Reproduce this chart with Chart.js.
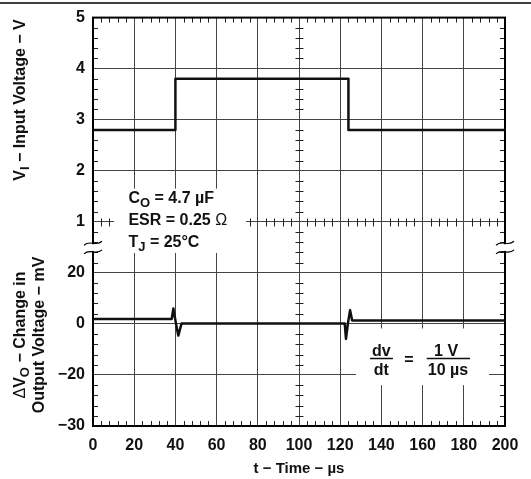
<!DOCTYPE html>
<html>
<head>
<meta charset="utf-8">
<script src="https://cdn.jsdelivr.net/npm/chart.js@4.4.1/dist/chart.umd.min.js"></script>
<style>
html, body { margin: 0; padding: 0; background: #fff; }
#wrap { width: 531px; height: 479px; }
</style>
</head>
<body>
<div id="wrap"><canvas id="transientChart"></canvas></div>
<script>
// Line transient: input step and output deviation (time in µs)
const timeIn = [0, 40, 40, 124, 124, 200];
const inputVolts = [2.8, 2.8, 3.8, 3.8, 2.8, 2.8];

const timeOut = [0, 38.2, 39.0, 40.2, 41.4, 43.0, 122.2, 122.8, 123.8, 124.8, 125.8, 200];
const deltaOut = [1.9, 1.9, 6.0, 0.5, -4.6, 0.2, 0.2, -5.9, 0.5, 5.4, 1.3, 1.3];

const inTickLabels = ['1', '2', '3', '4', '5'];
const outTickValues = [20, 0, -20, -40];
const outTickLabels = ['20', '0', '−20', '−30'];

// both traces share one 8-division graticule
const V_MIN = -3, V_MAX = 5;
const O_MIN = -40, O_MAX = 120;

const FONT = "'Liberation Sans', Arial, sans-serif";
Chart.defaults.font.family = FONT;
Chart.defaults.color = '#111';

// draw text made of runs, some of them subscripts
function runsWidth(ctx, runs, size) {
    let w = 0;
    runs.forEach(r => {
        ctx.font = (r.weight || 'bold') + ' ' + (r.sub ? size - 3 : size) + 'px ' + FONT;
        w += ctx.measureText(r.t).width;
    });
    return w;
}
function drawRuns(ctx, runs, x, y, size) {
    runs.forEach(r => {
        ctx.font = (r.weight || 'bold') + ' ' + (r.sub ? size - 3 : size) + 'px ' + FONT;
        ctx.fillText(r.t, x, r.sub ? y + 4 : y);
        x += ctx.measureText(r.t).width;
    });
}

const decor = {
    id: 'decor',
    beforeDatasetsDraw(chart) {
        const { ctx, chartArea: a, scales: { x, yV } } = chart;
        const px = t => x.getPixelForValue(t);
        const py = v => yV.getPixelForValue(v);
        ctx.save();

        // minor ticks on frame and centre lines
        const cy = Math.round(py(1)) + 0.5;
        const cx = Math.round(px(100)) + 0.5;
        ctx.strokeStyle = '#222';
        ctx.lineWidth = 1;
        ctx.beginPath();
        for (let k = 1; k < 50; k++) {
            if (k % 5 === 0) continue;
            const xx = Math.round(px(k * 4)) + 0.5;
            ctx.moveTo(xx, a.top); ctx.lineTo(xx, a.top + 5);
            ctx.moveTo(xx, a.bottom); ctx.lineTo(xx, a.bottom - 5);
            ctx.moveTo(xx, cy - 4); ctx.lineTo(xx, cy + 4);
        }
        for (let k = 1; k < 40; k++) {
            if (k % 5 === 0) continue;
            const yy = Math.round(py(V_MIN + k * 0.2)) + 0.5;
            ctx.moveTo(a.left, yy); ctx.lineTo(a.left + 5, yy);
            ctx.moveTo(a.right, yy); ctx.lineTo(a.right - 5, yy);
            ctx.moveTo(cx - 4, yy); ctx.lineTo(cx + 4, yy);
        }
        ctx.stroke();

        // frame
        ctx.strokeStyle = '#000';
        ctx.lineWidth = 2;
        ctx.strokeRect(a.left, a.top, a.right - a.left, a.bottom - a.top);

        // axis break marks
        const b1 = py(0.58), b2 = py(0.41);
        [a.left, a.right].forEach(bx => {
            ctx.fillStyle = '#fff';
            ctx.fillRect(bx - 2, b1 + 1, 4, b2 - b1 - 2);
            ctx.strokeStyle = '#000';
            ctx.lineWidth = 1.2;
            [b1, b2].forEach(by => {
                ctx.beginPath();
                ctx.moveTo(bx - 9, by + 2);
                ctx.bezierCurveTo(bx - 3, by - 4, bx + 3, by + 4, bx + 9, by - 2);
                ctx.stroke();
            });
        });

        // condition box
        ctx.fillStyle = '#fff';
        ctx.fillRect(px(10.2), py(1.65), px(74.3) - px(10.2), py(0.39) - py(1.65));
        ctx.fillStyle = '#111';
        ctx.textAlign = 'left';
        ctx.textBaseline = 'alphabetic';
        const tx = px(17.2);
        drawRuns(ctx, [{ t: 'C' }, { t: 'O', sub: true }, { t: ' = 4.7 µF' }], tx, py(1.37), 16);
        drawRuns(ctx, [{ t: 'ESR = 0.25 ' }, { t: 'Ω', weight: 'normal' }], tx, py(0.93), 16);
        drawRuns(ctx, [{ t: 'T' }, { t: 'J', sub: true }, { t: ' = 25°C' }], tx, py(0.51), 16);

        // dv/dt box
        ctx.fillStyle = '#fff';
        ctx.fillRect(px(127.7), py(-1.09), px(192.2) - px(127.7), py(-2.2) - py(-1.09));
        ctx.fillStyle = '#111';
        ctx.textAlign = 'center';
        ctx.font = 'bold 16px ' + FONT;
        const barY = Math.round(py(-1.66)) + 0.5;
        ctx.fillText('dv', px(140), barY - 3);
        ctx.fillText('dt', px(140), barY + 16);
        ctx.fillText('=', px(153.4), barY + 6);
        ctx.fillText('1 V', px(171.4), barY - 3);
        ctx.fillText('10 µs', px(172.3), barY + 16);
        ctx.strokeStyle = '#111';
        ctx.lineWidth = 1.5;
        ctx.beginPath();
        ctx.moveTo(px(134.5), barY); ctx.lineTo(px(145.6), barY);
        ctx.moveTo(px(162), barY); ctx.lineTo(px(183), barY);
        ctx.stroke();
        ctx.restore();
    },
    afterDraw(chart) {
        const { ctx } = chart;
        ctx.save();
        // rule across the top of the figure
        ctx.strokeStyle = '#000';
        ctx.lineWidth = 1.5;
        ctx.beginPath();
        ctx.moveTo(0, 3); ctx.lineTo(chart.width, 3);
        ctx.stroke();

        // rotated y titles
        ctx.fillStyle = '#111';
        ctx.textAlign = 'left';
        ctx.textBaseline = 'middle';
        const rotTitle = (runs, cx, cy) => {
            ctx.save();
            ctx.translate(cx, cy);
            ctx.rotate(-Math.PI / 2);
            drawRuns(ctx, runs, -runsWidth(ctx, runs, 16) / 2, 0, 16);
            ctx.restore();
        };
        rotTitle([{ t: 'V' }, { t: 'I', sub: true }, { t: ' − Input Voltage − V' }], 21, 100);
        rotTitle([{ t: 'Δ', weight: 'normal' }, { t: 'V' }, { t: 'O', sub: true }, { t: ' − Change in' }], 21, 335);
        rotTitle([{ t: 'Output Voltage − mV' }], 40, 335);
        ctx.restore();
    }
};

new Chart(document.getElementById('transientChart'), {
    type: 'line',
    data: {
        datasets: [{
            label: 'VI',
            data: timeIn.map((t, i) => ({ x: t, y: inputVolts[i] })),
            yAxisID: 'yV',
            borderColor: '#111',
            borderWidth: 2.5,
            borderJoinStyle: 'round',
            pointRadius: 0,
            tension: 0
        }, {
            label: 'dVO',
            data: timeOut.map((t, i) => ({ x: t, y: deltaOut[i] })),
            yAxisID: 'yO',
            borderColor: '#111',
            borderWidth: 2.5,
            borderJoinStyle: 'round',
            pointRadius: 0,
            tension: 0
        }]
    },
    options: {
        responsive: true,
        maintainAspectRatio: false,
        animation: false,
        layout: { padding: { left: 0, top: 15, right: 26, bottom: 0 } },
        plugins: {
            legend: { display: false },
            tooltip: { enabled: false }
        },
        scales: {
            x: {
                type: 'linear',
                min: 0,
                max: 200,
                ticks: {
                    stepSize: 20,
                    padding: 10,
                    maxRotation: 0,
                    font: { size: 16, weight: 'bold' },
                    color: '#111'
                },
                grid: { color: '#444', lineWidth: 1, drawTicks: false },
                border: { display: false },
                title: {
                    display: true,
                    text: 't − Time − µs',
                    font: { size: 15, weight: 'bold' },
                    color: '#111',
                    padding: { top: 0, bottom: 1 }
                },
                afterFit: s => { s.height = 53; }
            },
            yV: {
                type: 'linear',
                position: 'left',
                min: V_MIN,
                max: V_MAX,
                ticks: {
                    stepSize: 1,
                    padding: 8,
                    font: { size: 16, weight: 'bold' },
                    color: '#111',
                    callback: function (value) {
                        if (value >= 1) return inTickLabels[value - 1];
                        const mv = O_MIN + (value - V_MIN) * (O_MAX - O_MIN) / (V_MAX - V_MIN);
                        const i = outTickValues.indexOf(mv);
                        return i >= 0 ? outTickLabels[i] : '';
                    }
                },
                grid: { color: '#444', lineWidth: 1, drawTicks: false },
                border: { display: false },
                afterFit: s => { s.width = 93; }
            },
            yO: {
                type: 'linear',
                display: false,
                min: O_MIN,
                max: O_MAX
            }
        }
    },
    plugins: [decor]
});
</script>
</body>
</html>
